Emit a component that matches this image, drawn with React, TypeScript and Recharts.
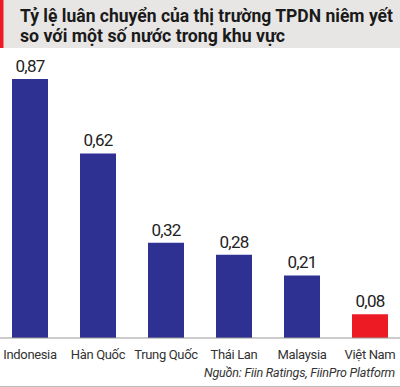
import React from "react";
import { BarChart, Bar, XAxis, YAxis, Cell, LabelList } from "recharts";

const categories = ["Indonesia", "Hàn Quốc", "Trung Quốc", "Thái Lan", "Malaysia", "Việt Nam"];
const values = [0.87, 0.62, 0.32, 0.28, 0.21, 0.08];
const barColors = ["#2e3192", "#2e3192", "#2e3192", "#2e3192", "#2e3192", "#ed1c24"];
const titleLines = ["Tỷ lệ luân chuyển của thị trường TPDN niêm yết", "so với một số nước trong khu vực"];
const sourceText = "Nguồn: Fiin Ratings, FiinPro Platform";

const data = categories.map((name, i) => ({ name, value: values[i] }));

const FONT = "Roboto, sans-serif";

const fmt = (v: number) => v.toFixed(2).replace(".", ",");

const Tick = (props: any) => {
  const { x, y, payload } = props;
  return (
    <text x={x} y={y} dy={13} textAnchor="middle" fontFamily={FONT} fontSize={13} letterSpacing={-0.35} fill="#333">
      {payload.value}
    </text>
  );
};

const ValueLabel = (props: any) => {
  const { x, y, width, value } = props;
  return (
    <text x={x + width / 2} y={y - 7} textAnchor="middle" fontFamily={FONT} fontSize={17} letterSpacing={-0.8} fill="#222">
      {fmt(Number(value))}
    </text>
  );
};

export default function App() {
  return (
    <div style={{ position: "absolute", left: 0, top: 0, width: 400, height: 387, background: "#fff", overflow: "hidden" }}>
      <svg width={400} height={48} style={{ position: "absolute", left: 0, top: 0 }}>
        <rect x={0} y={0} width={400} height={48} fill="#e8e6e5" />
        <rect x={0} y={0} width={3.5} height={48} fill="#ed1c24" />
        <text x={20} y={22} fontFamily={FONT} fontWeight={700} fontSize={17.5} fill="#1a1a1a" textLength={373} lengthAdjust="spacingAndGlyphs">{titleLines[0]}</text>
        <text x={20} y={42} fontFamily={FONT} fontWeight={700} fontSize={17.5} fill="#1a1a1a" textLength={265} lengthAdjust="spacingAndGlyphs">{titleLines[1]}</text>
      </svg>
      <div style={{ position: "absolute", left: 0, top: 0 }}>
        <BarChart width={400} height={387} data={data} margin={{ top: 79, right: -4, bottom: 0, left: -4 }}>
          <XAxis dataKey="name" axisLine={{ stroke: "#999" }} tickLine={false} height={49} tick={<Tick />} interval={0} />
          <YAxis hide domain={[0, 0.87]} />
          <Bar dataKey="value" isAnimationActive={false} barSize={36}>
            {data.map((d, i) => (
              <Cell key={d.name} fill={barColors[i]} />
            ))}
            <LabelList dataKey="value" content={<ValueLabel />} />
          </Bar>
        </BarChart>
      </div>
      <svg width={400} height={387} style={{ position: "absolute", left: 0, top: 0, pointerEvents: "none" }}>
        <text x={395} y={377} textAnchor="end" fontFamily={FONT} fontStyle="italic" fontSize={12.5} letterSpacing={-0.2} fill="#333">{sourceText}</text>
        <line x1={0} x2={400} y1={386.5} y2={386.5} stroke="#bbb" strokeWidth={1} />
      </svg>
    </div>
  );
}
